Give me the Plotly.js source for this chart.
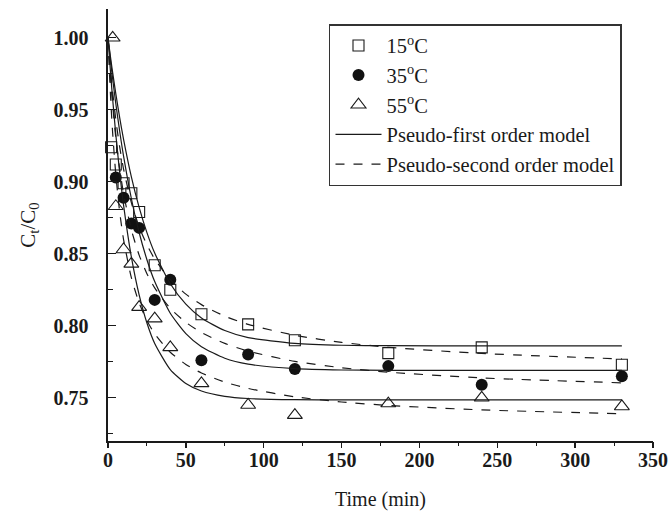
<!DOCTYPE html>
<html>
<head>
<meta charset="utf-8">
<script src="https://cdn.plot.ly/plotly-3.0.1.min.js"></script>
<style>
  html, body { margin: 0; padding: 0; background: #fff; }
  #chart { width: 670px; height: 518px; }
</style>
</head>
<body>
<div id="chart"></div>
<script>
// Measured C/C0 at each sampling time (min)
const time15 = [2, 5, 10, 15, 20, 30, 40, 60, 90, 120, 180, 240, 330];
const ratio15 = [0.924, 0.912, 0.899, 0.892, 0.879, 0.842, 0.825, 0.808, 0.801, 0.790, 0.781, 0.785, 0.773];

const time35 = [5, 10, 15, 20, 30, 40, 60, 90, 120, 180, 240, 330];
const ratio35 = [0.903, 0.889, 0.871, 0.868, 0.818, 0.832, 0.776, 0.780, 0.770, 0.772, 0.759, 0.765];

const time55 = [3, 5, 10, 15, 20, 30, 40, 60, 90, 120, 180, 240, 330];
const ratio55 = [1.000, 0.883, 0.853, 0.843, 0.813, 0.805, 0.785, 0.760, 0.745, 0.738, 0.746, 0.750, 0.744];

// Fitted model curves, sampled along the time axis
const modelTime = [0, 1, 2, 3, 5, 7.5, 10, 15, 20, 25, 30, 40, 50, 60, 75, 90, 120, 150, 180, 240, 330];

const pfo15 = [1.000, 0.9916, 0.9835, 0.9758, 0.9612, 0.9445, 0.9294, 0.9034, 0.8822, 0.8647, 0.8505, 0.8292, 0.8150, 0.8054, 0.7967, 0.7918, 0.7878, 0.7865, 0.7862, 0.7860, 0.7860];
const pfo35 = [1.000, 0.9901, 0.9805, 0.9714, 0.9544, 0.9351, 0.9178, 0.8884, 0.8648, 0.8459, 0.8307, 0.8087, 0.7946, 0.7855, 0.7775, 0.7734, 0.7702, 0.7693, 0.7691, 0.7690, 0.7690];
const pfo55 = [1.000, 0.9849, 0.9707, 0.9573, 0.9330, 0.9065, 0.8838, 0.8478, 0.8214, 0.8019, 0.7877, 0.7696, 0.7599, 0.7547, 0.7510, 0.7495, 0.7487, 0.7486, 0.7486, 0.7486, 0.7486];

const pso15 = [1.000, 0.9859, 0.9735, 0.9623, 0.9433, 0.9242, 0.9088, 0.8855, 0.8688, 0.8562, 0.8464, 0.8320, 0.8220, 0.8147, 0.8067, 0.8010, 0.7934, 0.7885, 0.7851, 0.7808, 0.7770];
const pso35 = [1.000, 0.9822, 0.9668, 0.9533, 0.9308, 0.9089, 0.8917, 0.8666, 0.8491, 0.8362, 0.8263, 0.8121, 0.8024, 0.7953, 0.7878, 0.7824, 0.7753, 0.7709, 0.7678, 0.7638, 0.7604];
const pso55 = [1.000, 0.9736, 0.9519, 0.9338, 0.9052, 0.8791, 0.8599, 0.8334, 0.8159, 0.8036, 0.7944, 0.7816, 0.7732, 0.7672, 0.7609, 0.7565, 0.7507, 0.7471, 0.7447, 0.7416, 0.7389];

const serif = 'Liberation Serif, Times New Roman, serif';
const ink = '#1a1a1a';

// model curves sit on the overlaid time axis (same range as the main one)
function modelTrace(y, dash, name, first) {
  return {
    x: modelTime, y: y, type: 'scatter', mode: 'lines', xaxis: 'x2', yaxis: 'y',
    line: { color: ink, width: 1.2, dash: dash, shape: 'spline', smoothing: 0.6 },
    name: name, legendgroup: name, showlegend: first, hoverinfo: 'skip'
  };
}

const traces = [
  { x: time15, y: ratio15, type: 'scatter', mode: 'markers', name: '15<sup>o</sup>C',
    marker: { symbol: 'square-open', size: 11, color: ink, line: { width: 1.1 } }, cliponaxis: false },
  { x: time35, y: ratio35, type: 'scatter', mode: 'markers', name: '35<sup>o</sup>C',
    marker: { symbol: 'circle', size: 12, color: '#111' }, cliponaxis: false },
  { x: time55, y: ratio55, type: 'scatter', mode: 'markers', name: '55<sup>o</sup>C',
    marker: { symbol: 'triangle-up-open', size: 13, color: ink, line: { width: 1.1 } }, cliponaxis: false },
  modelTrace(pfo15, 'solid', 'Pseudo-first order model', true),
  modelTrace(pfo35, 'solid', 'Pseudo-first order model', false),
  modelTrace(pfo55, 'solid', 'Pseudo-first order model', false),
  modelTrace(pso15, 'dash', 'Pseudo-second order model', true),
  modelTrace(pso35, 'dash', 'Pseudo-second order model', false),
  modelTrace(pso55, 'dash', 'Pseudo-second order model', false)
];

const layout = {
  width: 670, height: 518,
  margin: { l: 108, r: 17, t: 9, b: 77 },
  paper_bgcolor: '#fff', plot_bgcolor: '#fff',
  font: { family: serif, color: ink, size: 20 },
  showlegend: true,
  legend: {
    x: 0.4055, y: 0.965, xanchor: 'left', yanchor: 'top',
    bordercolor: '#333', borderwidth: 1.5, bgcolor: '#fff',
    font: { family: serif, size: 20.5, color: ink },
    itemwidth: 46, traceorder: 'normal'
  },
  // time axis: labels and title; tick marks come from the overlaid axis below
  xaxis: {
    range: [0, 350], dtick: 50, tick0: 0,
    showgrid: false, zeroline: false,
    showline: true, linecolor: ink, linewidth: 1.6,
    ticks: '',
    tickfont: { family: serif, size: 20, weight: 'bold', color: ink },
    title: { text: 'Time (min)', font: { family: serif, size: 20, color: ink }, standoff: 22 }
  },
  xaxis2: {
    overlaying: 'x', matches: 'x', anchor: 'y', side: 'bottom',
    range: [0, 350], dtick: 50, tick0: 0,
    showgrid: false, zeroline: false, showline: false, showticklabels: false,
    ticks: 'outside', ticklen: 6, tickwidth: 1.3, tickcolor: ink,
    minor: { dtick: 25, ticks: 'outside', ticklen: 4, tickwidth: 1.1, tickcolor: ink }
  },
  yaxis: {
    range: [0.72, 1.02], dtick: 0.05, tick0: 0.75, tickformat: '.2f',
    showgrid: false, zeroline: false,
    showline: true, linecolor: ink, linewidth: 1.6,
    ticks: 'inside', ticklen: 8, tickwidth: 1.3, tickcolor: ink,
    minor: { dtick: 0.025, ticks: 'inside', ticklen: 5, tickwidth: 1.1, tickcolor: ink },
    tickfont: { family: serif, size: 20, weight: 'bold', color: ink },
    ticklabelstandoff: 14,
    title: { text: 'C<sub>t</sub>/C<sub>0</sub>', font: { family: serif, size: 21, color: ink }, standoff: 12 }
  }
};

Plotly.newPlot('chart', traces, layout, { staticPlot: true, displayModeBar: false });
</script>
</body>
</html>
